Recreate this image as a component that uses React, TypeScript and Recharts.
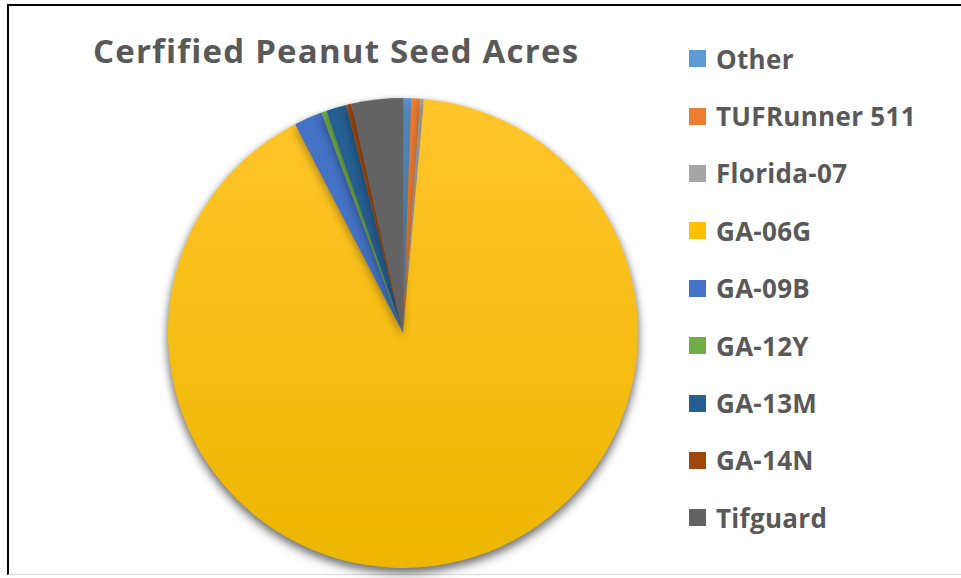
import React from 'react';
import { PieChart, Pie, Cell, Legend } from 'recharts';

const varieties = ['Other', 'TUFRunner 511', 'Florida-07', 'GA-06G', 'GA-09B', 'GA-12Y', 'GA-13M', 'GA-14N', 'Tifguard'];
const acres = [200, 220, 90, 32750, 700, 130, 500, 130, 1270];
const colors = ['#5B9BD5', '#ED7D31', '#A5A5A5', '#FFC000', '#4472C4', '#70AD47', '#255E91', '#9E480E', '#636363'];

const data = varieties.map((name, i) => ({ name, value: acres[i] }));

const LegendList = () => (
  <div style={{ fontFamily: '"Open Sans", sans-serif', fontWeight: 700, fontSize: 26, color: '#595959', letterSpacing: 0.3 }}>
    {varieties.map((name, i) => (
      <div key={name} style={{ display: 'flex', alignItems: 'center', height: 57.4 }}>
        <span style={{ width: 17, height: 17, background: colors[i], marginRight: 10, display: 'inline-block', flexShrink: 0 }} />
        <span>{name}</span>
      </div>
    ))}
  </div>
);

export default function App() {
  return (
    <div style={{ position: 'absolute', left: 0, top: 0, width: 961, height: 578, background: '#fff', overflow: 'hidden' }}>
      <style>{`.pie-shadow { filter: drop-shadow(0px 4px 4px rgba(0,0,0,0.35)); }`}</style>
      <div style={{ position: 'absolute', left: 7, top: 4, width: 954, height: 568, borderTop: '2px solid #000', borderLeft: '2px solid #000', borderBottom: '1px solid #ddd' }} />
      <div style={{ position: 'absolute', left: 93, top: 28, fontFamily: '"Open Sans", sans-serif', fontWeight: 700, fontSize: 33, letterSpacing: 1.2, color: '#595959', whiteSpace: 'nowrap' }}>
        Cerfified Peanut Seed Acres
      </div>
      <PieChart width={961} height={578} style={{ position: 'absolute', left: 0, top: 0 }}>
        <defs>
          <linearGradient id="yellowGrad" x1="0" y1="0" x2="0" y2="1">
            <stop offset="0%" stopColor="#FFC52B" />
            <stop offset="100%" stopColor="#EDB600" />
          </linearGradient>
        </defs>
        <Pie
          data={data}
          dataKey="value"
          nameKey="name"
          cx={398}
          cy={328}
          outerRadius={235}
          startAngle={90}
          endAngle={-270}
          stroke="none"
          className="pie-shadow"
          isAnimationActive={false}
        >
          {data.map((d, i) => (
            <Cell key={d.name} fill={d.name === 'GA-06G' ? 'url(#yellowGrad)' : colors[i]} />
          ))}
        </Pie>
        <Legend
          content={<LegendList />}
          wrapperStyle={{ position: 'absolute', left: 689, top: 30, width: 270 }}
        />
      </PieChart>
    </div>
  );
}
